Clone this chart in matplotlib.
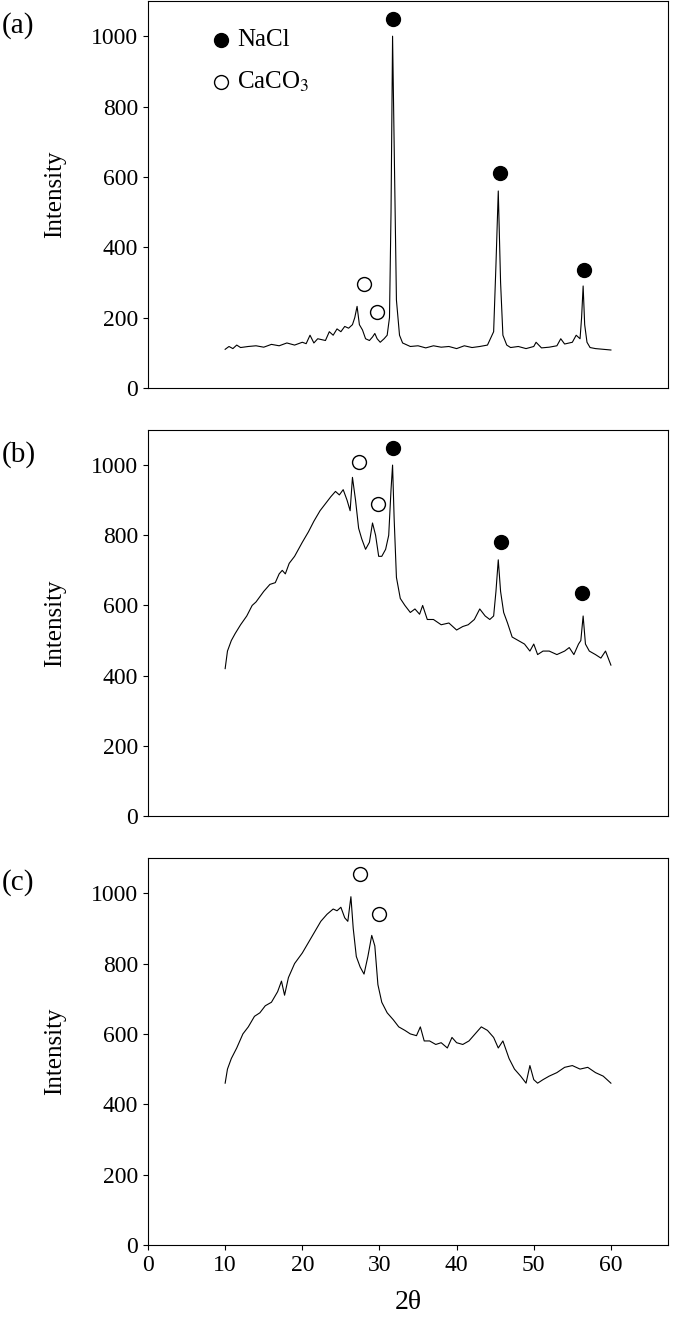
import matplotlib
matplotlib.use("Agg")
import matplotlib.pyplot as plt

plt.rcParams["font.family"] = "Liberation Serif"
plt.rcParams["mathtext.fontset"] = "stix"

# Panel (a) pattern
xa = [10,10.5,11,11.5,12,13,14,15,16,17,18,19,20,20.5,21,21.5,22,23,23.5,24,24.5,25,25.5,26,26.5,26.8,27.1,27.4,27.8,28.2,28.7,29.1,29.4,29.7,30.1,30.6,31.0,31.3,31.5,31.7,31.9,32.2,32.6,33,34,35,36,37,38,39,40,41,42,43,44,44.8,45.1,45.4,45.7,46.0,46.5,47,48,49,50,50.3,51,52,53,53.5,54,55,55.5,56,56.2,56.4,56.6,56.9,57.3,58,59,60]
ya = [110,118,112,122,115,118,120,116,124,120,128,122,130,126,150,128,140,135,160,150,168,160,175,170,180,200,232,180,165,140,135,145,155,140,130,140,150,200,500,1000,700,250,150,128,118,120,114,120,116,118,112,120,115,118,122,160,350,560,300,150,122,115,118,112,118,130,114,116,120,140,125,130,150,140,200,290,180,130,115,112,110,108]

# Panel (b) pattern
xb = [10,10.3,10.8,11.3,12,12.8,13.5,14,15,15.8,16.5,17,17.4,17.8,18.3,19,20,20.8,21.5,22.3,23,23.7,24.3,24.8,25.3,25.8,26.2,26.5,26.9,27.3,27.7,28.2,28.7,29.1,29.5,29.9,30.3,30.8,31.2,31.5,31.7,31.9,32.2,32.7,33.3,34,34.6,35.2,35.6,36.2,37,38,39,40,40.8,41.5,42.3,43,43.7,44.3,44.8,45.1,45.4,45.7,46.1,46.6,47.2,48,48.8,49.5,50,50.5,51.2,52,53,54,54.6,55.2,55.8,56.1,56.4,56.7,57.2,58,58.7,59.3,60]
yb = [420,470,500,520,545,570,600,610,640,660,665,690,700,690,720,740,780,810,840,870,890,910,925,915,930,900,870,965,900,820,790,760,780,835,800,740,740,760,800,930,1000,850,680,620,600,580,590,575,600,560,560,545,550,530,540,545,560,590,570,560,570,640,730,640,580,550,510,500,490,470,490,460,470,470,460,470,480,460,490,500,570,490,470,460,450,470,430]

# Panel (c) pattern
xc = [10,10.3,10.8,11.5,12.3,13,13.8,14.5,15.2,16,16.8,17.3,17.7,18.2,19,20,20.8,21.6,22.4,23.2,24,24.5,25,25.5,25.9,26.3,26.6,27,27.5,28,28.5,29,29.4,29.8,30.3,31,31.8,32.5,33.3,34,34.8,35.3,35.8,36.5,37.3,38,38.8,39.4,40,40.8,41.6,42.4,43.2,44,44.8,45.4,46,46.8,47.5,48.3,49,49.5,50,50.5,51.2,52,53,54,55,56,57,58,59,59.5,60]
yc = [460,500,530,560,600,620,650,660,680,690,720,750,710,760,800,830,860,890,920,940,955,950,960,930,920,990,900,820,790,770,820,880,850,740,690,660,640,620,610,600,595,620,580,580,570,575,560,590,575,570,580,600,620,610,590,560,580,530,500,480,460,510,470,460,470,480,490,505,510,500,505,490,480,470,460]

nacl_a = ([31.8, 45.6, 56.5], [1050, 610, 335])
caco3_a = ([28.0, 29.7], [295, 215])
nacl_b = ([31.7, 45.8, 56.3], [1050, 780, 635])
caco3_b = ([27.3, 29.8], [1010, 890])
caco3_c = ([27.5, 30.0], [1055, 940])

W, H = 685, 1336
fig = plt.figure(figsize=(W/100, H/100), dpi=100)
left = 148/W; width = (668-148)/W
panels = [(1, 388), (430, 816), (858, 1245)]
axes = []
for top, bot in panels:
    ax = fig.add_axes([left, 1-bot/H, width, (bot-top)/H])
    axes.append(ax)

data = [(xa, ya, nacl_a, caco3_a), (xb, yb, nacl_b, caco3_b), (xc, yc, None, caco3_c)]
labels = ["(a)", "(b)", "(c)"]
for i, (ax, (x, y, na, ca)) in enumerate(zip(axes, data)):
    ax.plot(x, y, color="black", lw=0.8)
    if na:
        ax.plot(na[0], na[1], "o", color="black", ms=10)
    ax.plot(ca[0], ca[1], "o", mfc="white", mec="black", ms=10, mew=1)
    ax.set_xlim(0, 67.4)
    ax.set_ylim(0, 1100)
    ax.set_yticks([0, 200, 400, 600, 800, 1000])
    ax.set_xticks([0, 10, 20, 30, 40, 50, 60])
    ax.tick_params(labelsize=17, direction="out", top=False, right=False)
    ax.set_ylabel("Intensity", fontsize=18, labelpad=18)
    if i < 2:
        ax.set_xticklabels([])
        ax.tick_params(axis="x", length=0)
    fig.text(2/W, 1-(panels[i][0]+25)/H, labels[i], fontsize=21, va="center")

axes[2].set_xlabel("2θ", fontsize=20, labelpad=10)
axes[0].plot([9.5], [990], "o", color="black", ms=10)
axes[0].plot([9.5], [870], "o", mfc="white", mec="black", ms=10)
axes[0].text(11.5, 990, "NaCl", fontsize=18, va="center")
axes[0].text(11.5, 870, "CaCO$_3$", fontsize=18, va="center")

fig.savefig("out.png", dpi=100)
